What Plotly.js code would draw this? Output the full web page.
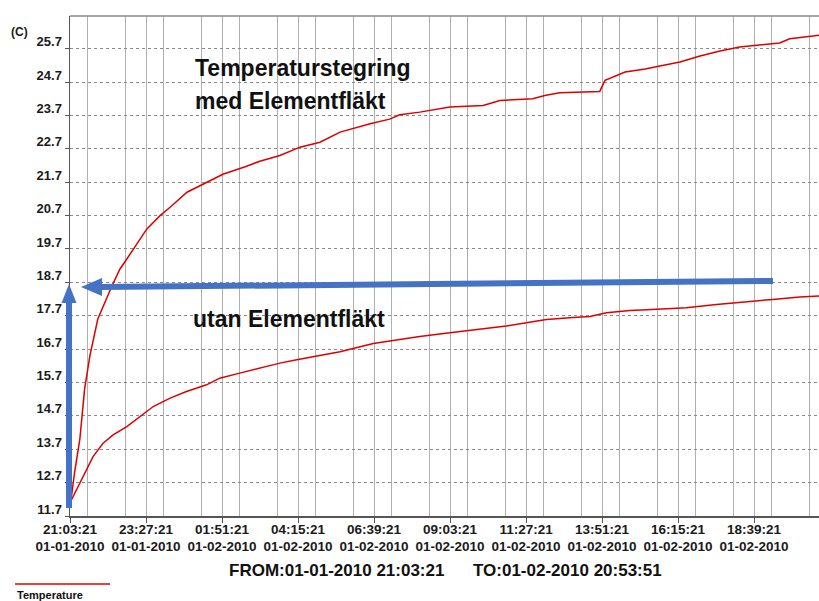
<!DOCTYPE html>
<html>
<head>
<meta charset="utf-8">
<script src="https://cdn.plot.ly/plotly-3.0.1.min.js"></script>
<style>html,body{margin:0;padding:0;background:#fff;}#chart{width:819px;height:601px;}</style>
</head>
<body>
<div id="chart"></div>
<script>
// ---- Data ----
const withFanTimes = [
  "2010-01-01 21:05","2010-01-01 21:12","2010-01-01 21:22","2010-01-01 21:31","2010-01-01 21:41",
  "2010-01-01 21:56","2010-01-01 22:23","2010-01-01 22:38","2010-01-01 22:51","2010-01-01 23:16",
  "2010-01-01 23:29","2010-01-01 23:54","2010-01-02 00:13","2010-01-02 00:45","2010-01-02 01:23",
  "2010-01-02 01:53","2010-01-02 02:38","2010-01-02 03:03","2010-01-02 03:41","2010-01-02 04:19",
  "2010-01-02 04:57","2010-01-02 05:35","2010-01-02 06:32","2010-01-02 07:09","2010-01-02 07:28",
  "2010-01-02 08:06","2010-01-02 09:03","2010-01-02 10:06","2010-01-02 10:38","2010-01-02 11:40",
  "2010-01-02 12:03","2010-01-02 12:31","2010-01-02 13:47","2010-01-02 13:57","2010-01-02 14:35",
  "2010-01-02 15:13","2010-01-02 15:41","2010-01-02 16:19","2010-01-02 16:57","2010-01-02 17:35",
  "2010-01-02 18:12","2010-01-02 18:50","2010-01-02 19:28","2010-01-02 19:47","2010-01-02 20:20",
  "2010-01-02 20:53"
];
const withFanTemps = [
  12.15, 13.0, 14.0, 15.5, 16.5,
  17.6, 18.6, 19.1, 19.4, 20.0,
  20.3, 20.7, 20.95, 21.4, 21.7,
  21.94, 22.18, 22.33, 22.5, 22.75,
  22.9, 23.2, 23.45, 23.59, 23.72,
  23.8, 23.95, 24.0, 24.15, 24.2,
  24.3, 24.38, 24.42, 24.75, 25.0,
  25.09, 25.18, 25.3, 25.48, 25.63,
  25.75, 25.81, 25.87, 26.0, 26.05,
  26.12
];
const noFanTimes = [
  "2010-01-01 21:05","2010-01-01 21:22","2010-01-01 21:35","2010-01-01 21:47","2010-01-01 22:06",
  "2010-01-01 22:25","2010-01-01 22:51","2010-01-01 23:16","2010-01-01 23:41","2010-01-02 00:13",
  "2010-01-02 00:44","2010-01-02 01:22","2010-01-02 01:47","2010-01-02 02:25","2010-01-02 03:03",
  "2010-01-02 03:41","2010-01-02 04:13","2010-01-02 05:35","2010-01-02 06:13","2010-01-02 06:38",
  "2010-01-02 07:28","2010-01-02 08:06","2010-01-02 09:03","2010-01-02 10:00","2010-01-02 10:50",
  "2010-01-02 11:28","2010-01-02 12:06","2010-01-02 12:50","2010-01-02 13:28","2010-01-02 14:00",
  "2010-01-02 14:44","2010-01-02 15:16","2010-01-02 16:31","2010-01-02 17:28","2010-01-02 18:31",
  "2010-01-02 19:15","2010-01-02 20:06","2010-01-02 20:53"
];
const noFanTemps = [
  12.15, 12.68, 13.08, 13.48, 13.88,
  14.13, 14.38, 14.68, 14.98, 15.23,
  15.43, 15.63, 15.83, 15.98, 16.13,
  16.28, 16.38, 16.62, 16.77, 16.87,
  16.99, 17.08, 17.19, 17.29, 17.39,
  17.49, 17.59, 17.64, 17.68, 17.79,
  17.86, 17.88, 17.94, 18.04, 18.14,
  18.19, 18.26, 18.3
];
const startTime = "2010-01-01 21:03:21";
const viewEnd = "2010-01-02 20:42:27";
const yTickStart = 11.7;
const yRange = [11.7, 26.68];
const unitLabel = "(C)";
const labelWithFan = ["Temperaturstegring", "med Elementfläkt"];
const labelNoFan = "utan Elementfläkt";
const fromText = "FROM:01-01-2010 21:03:21";
const toText = "TO:01-02-2010 20:53:51";
const legendText = "Temperature";

// ---- Chart ----
const FONT = "Liberation Sans, Arial, sans-serif";
const RED = "rgb(220,0,0)";
const BLUE = "#4472C4";
const L = 70, T = 16, W = 749, H = 500;
const px = v => (v - L) / W;
const py = v => (T + H - v) / H;

const traces = [
  {x: withFanTimes, y: withFanTemps, type: "scatter", mode: "lines",
   line: {color: RED, width: 1.5}, name: "med", showlegend: false, hoverinfo: "skip"},
  {x: noFanTimes, y: noFanTemps, type: "scatter", mode: "lines",
   line: {color: RED, width: 1.5}, name: "utan", showlegend: false, hoverinfo: "skip"}
];

const tickFontX = {family: FONT, size: 13.5, color: "#1a1a1a", weight: "bold"};
const tickFontY = {family: FONT, size: 13, color: "#1a1a1a", weight: "bold"};

const layout = {
  width: 819, height: 601, autosize: false,
  margin: {l: L, r: 0, t: T, b: 85, pad: 0},
  paper_bgcolor: "#ffffff", plot_bgcolor: "#ffffff",
  showlegend: false,
  xaxis: {
    type: "date", range: [startTime, viewEnd],
    tick0: startTime, dtick: 144 * 60 * 1000,
    tickformat: "%H:%M:%S<br>%m-%d-%Y",
    tickfont: tickFontX, ticks: "outside", ticklen: 5, tickcolor: "#555", tickwidth: 1,
    ticklabelstandoff: -5,
    showgrid: true, gridcolor: "#b0b0b0", gridwidth: 1, griddash: "solid",
    minor: {dtick: 72 * 60 * 1000, showgrid: true, gridcolor: "#b0b0b0", gridwidth: 1,
            griddash: "solid", ticks: ""},
    showline: true, linecolor: "#555", linewidth: 1.5,
    zeroline: false, fixedrange: true
  },
  yaxis: {
    range: yRange, tick0: yTickStart, dtick: 1, tickformat: ".1f",
    tickfont: tickFontY, ticks: "outside", ticklen: 4, tickcolor: "#555", tickwidth: 1,
    ticklabelshift: -7,
    showgrid: true, gridcolor: "#8a8a8a", gridwidth: 1, griddash: "dot",
    showline: true, linecolor: "#555", linewidth: 1.5,
    zeroline: false, fixedrange: true
  },
  shapes: [
    {type: "line", xref: "paper", yref: "paper", x0: 0, x1: 1, y0: 1, y1: 1,
     line: {color: "#8a8a8a", width: 1.5}},
    {type: "line", xref: "paper", yref: "paper", layer: "above",
     x0: px(69), x1: px(69), y0: py(508), y1: py(300), line: {color: BLUE, width: 6}},
    {type: "path", xref: "paper", yref: "paper", layer: "above",
     path: `M ${px(69)} ${py(284)} L ${px(61.5)} ${py(303)} L ${px(76.5)} ${py(303)} Z`,
     fillcolor: BLUE, line: {color: BLUE, width: 0}},
    {type: "line", xref: "paper", yref: "paper", layer: "above",
     x0: px(773), x1: px(100), y0: py(281), y1: py(287), line: {color: BLUE, width: 6}},
    {type: "path", xref: "paper", yref: "paper", layer: "above",
     path: `M ${px(81)} ${py(287)} L ${px(102)} ${py(278)} L ${px(102)} ${py(296)} Z`,
     fillcolor: BLUE, line: {color: BLUE, width: 0}},
    {type: "line", xref: "paper", yref: "paper",
     x0: px(15), x1: px(110), y0: py(584), y1: py(584), line: {color: RED, width: 1.5}}
  ],
  annotations: [
    {text: unitLabel, xref: "paper", yref: "paper", x: px(9), y: py(32),
     xanchor: "left", yanchor: "middle", showarrow: false,
     font: {family: FONT, size: 12, color: "#1a1a1a", weight: "bold"}},
    {text: labelWithFan[0], xref: "paper", yref: "paper", x: px(193), y: py(68),
     xanchor: "left", yanchor: "middle", showarrow: false,
     font: {family: FONT, size: 23, color: "#111", weight: "bold"}},
    {text: labelWithFan[1], xref: "paper", yref: "paper", x: px(193), y: py(101),
     xanchor: "left", yanchor: "middle", showarrow: false,
     font: {family: FONT, size: 23, color: "#111", weight: "bold"}},
    {text: labelNoFan, xref: "paper", yref: "paper", x: px(191), y: py(319),
     xanchor: "left", yanchor: "middle", showarrow: false,
     font: {family: FONT, size: 23, color: "#111", weight: "bold"}},
    {text: fromText, xref: "paper", yref: "paper", x: px(227), y: py(570),
     xanchor: "left", yanchor: "middle", showarrow: false,
     font: {family: FONT, size: 17, color: "#111", weight: "bold"}},
    {text: toText, xref: "paper", yref: "paper", x: px(471), y: py(570),
     xanchor: "left", yanchor: "middle", showarrow: false,
     font: {family: FONT, size: 17, color: "#111", weight: "bold"}},
    {text: legendText, xref: "paper", yref: "paper", x: px(15), y: py(595),
     xanchor: "left", yanchor: "middle", showarrow: false,
     font: {family: FONT, size: 11, color: "#111", weight: "bold"}}
  ]
};

Plotly.newPlot("chart", traces, layout, {staticPlot: true, displayModeBar: false});
</script>
</body>
</html>
